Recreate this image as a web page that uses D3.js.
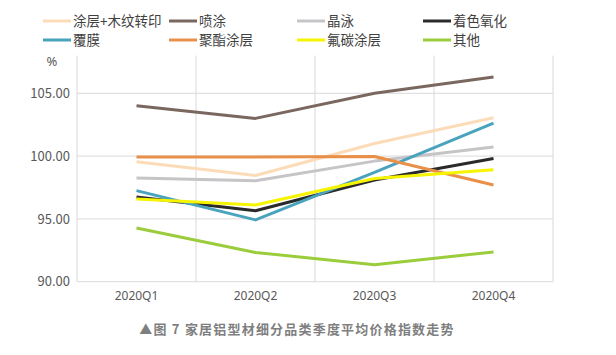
<!DOCTYPE html>
<html><head><meta charset="utf-8">
<script src="https://cdn.jsdelivr.net/npm/d3@7"></script>
<style>body{margin:0;background:#fff}svg{display:block}</style>
</head><body><svg id="c" width="616" height="355"></svg>
<script>
const categories = ["2020Q1","2020Q2","2020Q3","2020Q4"];
const seriesNames = ["涂层+木纹转印","喷涂","晶泳","着色氧化","覆膜","聚酯涂层","氟碳涂层","其他"];
const seriesColors = ["#fcdcb8","#7a675f","#c7c4c8","#2a2a2a","#4aa3bd","#e8904a","#f6f400","#9bcc3b"];
const vCoating = [99.55, 98.45, 101.0, 103.05];
const vSpray = [104.0, 103.0, 105.0, 106.3];
const vElectro = [98.25, 98.03, 99.6, 100.72];
const vColorOx = [96.75, 95.65, 98.1, 99.8];
const vFilm = [97.25, 94.92, 98.7, 102.62];
const vPolyester = [99.92, 99.92, 99.97, 97.7];
const vFluoro = [96.58, 96.1, 98.22, 98.92];
const vOther = [94.27, 92.33, 91.35, 92.37];
const yTicks = [90, 95, 100, 105];
const seriesValues = [vCoating, vSpray, vElectro, vColorOx, vFilm, vPolyester, vFluoro, vOther];

const svg = d3.select("#c");
const x = d3.scaleBand().domain(categories).range([77, 553]);
const y = d3.scaleLinear().domain([90, 108]).range([281.7, 55.6]);
const grid = "#d9d9d9";

// horizontal gridlines
svg.append("g").selectAll("line").data(yTicks.slice(1)).join("line")
  .attr("x1", 77).attr("x2", 553).attr("y1", d => y(d)).attr("y2", d => y(d))
  .attr("stroke", grid).attr("stroke-width", 1);
// vertical gridlines at band boundaries
const bounds = categories.map(c => x(c)).concat([x.range()[1]]);
svg.append("g").selectAll("line").data(bounds).join("line")
  .attr("x1", d => d).attr("x2", d => d).attr("y1", y(108)).attr("y2", y(90))
  .attr("stroke", grid).attr("stroke-width", 1);
// bottom axis line
svg.append("line").attr("x1", 77).attr("x2", 553).attr("y1", y(90)).attr("y2", y(90))
  .attr("stroke", grid);

// y labels
const yAxis = svg.append("g").attr("transform", "translate(70,0)")
  .call(d3.axisLeft(y).tickValues(yTicks).tickFormat(d3.format(".2f")).tickSize(0).tickPadding(0));
yAxis.select(".domain").remove();
yAxis.selectAll("text").attr("font-family", "'Noto Sans CJK SC','Noto Sans',sans-serif")
  .attr("font-size", 13).attr("fill", "#595959");
svg.append("text").attr("x", 52).attr("y", 66).attr("text-anchor", "middle")
  .attr("font-family", "'Noto Sans',sans-serif").attr("font-size", 13).attr("fill", "#595959").text("%");

// x labels
const xAxis = svg.append("g").attr("transform", `translate(0,${y(90)})`)
  .call(d3.axisBottom(x).tickSize(0).tickPadding(10));
xAxis.select(".domain").remove();
xAxis.selectAll("text").attr("font-family", "'Noto Sans',sans-serif")
  .attr("font-size", 12).attr("fill", "#595959");

// lines
const line = d3.line().x((d, i) => x(categories[i]) + x.bandwidth() / 2).y(d => y(d));
svg.append("g").selectAll("path").data(seriesValues).join("path")
  .attr("d", line).attr("fill", "none")
  .attr("stroke", (d, i) => seriesColors[i]).attr("stroke-width", 3)
  .attr("stroke-linejoin", "round");

// legend
const colX = [43, 169, 297, 423];
const rowY = [21, 40];
const lg = svg.append("g").selectAll("g").data(seriesNames).join("g")
  .attr("transform", (d, i) => `translate(${colX[i % 4]},${rowY[Math.floor(i / 4)]})`);
lg.append("line").attr("x1", 0).attr("x2", 28).attr("y1", 0).attr("y2", 0)
  .attr("stroke", (d, i) => seriesColors[i]).attr("stroke-width", 3);
lg.append("text").attr("x", 30).attr("y", 0).attr("dy", "0.35em")
  .attr("font-family", "'Noto Sans CJK SC',sans-serif").attr("font-size", 13.5)
  .attr("fill", "#404040").text(d => d);

// caption
svg.append("text").attr("x", 297).attr("y", 334).attr("text-anchor", "middle")
  .attr("font-family", "'Noto Sans CJK SC',sans-serif").attr("font-size", 13)
  .attr("font-weight", "bold").attr("letter-spacing", 1.2).attr("fill", "#7f7f7f")
  .text("▲图 7 家居铝型材细分品类季度平均价格指数走势");
</script></body></html>
